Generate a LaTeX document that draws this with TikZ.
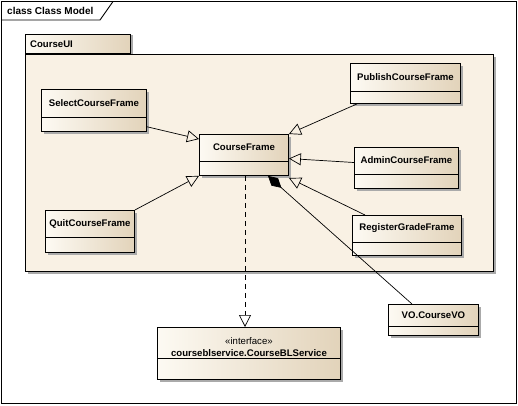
\documentclass[tikz,border=0pt]{standalone}
\usepackage{fontspec}
\setmainfont{Liberation Sans}
\usetikzlibrary{arrows.meta,calc,shadows}
\definecolor{boxL}{RGB}{253,250,243}
\definecolor{boxR}{RGB}{226,211,186}
\definecolor{pkgfill}{RGB}{249,241,228}
\definecolor{shade}{RGB}{170,170,170}
\tikzset{
  cls/.style={draw=black, line width=0.9pt, left color=boxL, right color=boxR, inner sep=0pt,
    general shadow={fill=shade, shadow xshift=3pt, shadow yshift=-3pt}},
  lbl/.style={font=\fontsize{9.6}{11}\selectfont\bfseries, inner sep=0pt},
  gen/.style={draw=black, line width=0.7pt, -{Triangle[open, length=12pt, width=12pt]}},
  compo/.style={draw=black, line width=0.7pt, {Diamond[length=18pt, width=10pt]}-},
  real/.style={draw=black, line width=0.7pt, dash pattern=on 5pt off 4pt, -{Triangle[open, length=12pt, width=12pt]}},
}
\newcommand\umlcls[7]{%
  \node[cls, minimum width=#4pt, minimum height=#5pt, anchor=north west] (#1) at (#2,#3) {};
  \draw[line width=0.7pt] ($(#1.north west)+(0,#6)$) -- ($(#1.north east)+(0,#6)$);
  \node[lbl] (#1-l) at ($(#1.north)+(0,#6/2)$) {#7};
}
\begin{document}
\begin{tikzpicture}[x=1pt, y=-1pt]
\useasboundingbox (0,0) rectangle (518,405);
% outer frame
\draw[line width=0.9pt, fill=white] (1.5,1.5) rectangle (516.5,403.5);
\draw[line width=0.9pt] (1.5,20) -- (100,20) -- (113,1.5);
\node[font=\fontsize{10}{12}\selectfont\bfseries, anchor=west, inner sep=0pt] (title) at (7,11) {class Class Model};
% package
\node[draw=black, line width=0.9pt, fill=pkgfill, minimum width=468pt, minimum height=217pt, anchor=north west, inner sep=0pt,
  general shadow={fill=shade, shadow xshift=3pt, shadow yshift=-3pt}] (pkg) at (25,54) {};
\node[draw=black, line width=0.9pt, left color=boxL, right color=boxR, minimum width=105pt, minimum height=19pt, anchor=south west, inner sep=0pt,
  general shadow={fill=shade, shadow xshift=3pt, shadow yshift=0pt}] (pkgtab) at (pkg.north west) {};
\node[lbl, anchor=west] (pkgname) at ($(pkgtab.west)+(5,0)$) {CourseUI};
% classes
\umlcls{sel}{41}{89}{105}{42}{28}{SelectCourseFrame}
\umlcls{quit}{45}{210}{89}{42}{27}{QuitCourseFrame}
\umlcls{cf}{199}{134}{89}{41}{27}{CourseFrame}
\umlcls{pub}{350}{63}{110}{40}{28}{PublishCourseFrame}
\umlcls{adm}{354}{147}{104}{41}{27}{AdminCourseFrame}
\umlcls{reg}{352}{215}{109}{40}{27}{RegisterGradeFrame}
\umlcls{vo}{388}{304}{90}{31}{22}{VO.CourseVO}
% interface
\node[cls, minimum width=183pt, minimum height=52pt, anchor=north west] (ifc) at (157,327) {};
\draw[line width=0.7pt] ($(ifc.north west)+(0,31)$) -- ($(ifc.north east)+(0,31)$);
\node[font=\fontsize{9.6}{11}\selectfont, inner sep=0pt] (ifc-s) at ($(ifc.north)+(0,14)$) {«interface»};
\node[lbl] (ifc-l) at ($(ifc.north)+(0,26)$) {courseblservice.CourseBLService};
% connectors
\draw[gen] ($(sel.north east)!0.88!(sel.south east)$) -- ($(cf.north west)!0.12!(cf.south west)$);
\draw[gen] (quit.north east) -- (cf.south west);
\draw[gen] ($(pub.south west)+(7,0)$) -- (cf.north east);
\draw[gen] ($(adm.north west)!0.37!(adm.south west)$) -- ($(cf.north east)!0.585!(cf.south east)$);
\draw[gen] ($(reg.north west)+(13,0)$) -- ($(cf.south east)+(0,2)$);
\draw[compo] ($(cf.south west)+(69,0)$) -- ($(vo.north west)+(24,0)$);
\draw[real] ($(cf.south west)+(46,0)$) -- ($(ifc.north west)+(88,0)$);
\end{tikzpicture}
\end{document}
